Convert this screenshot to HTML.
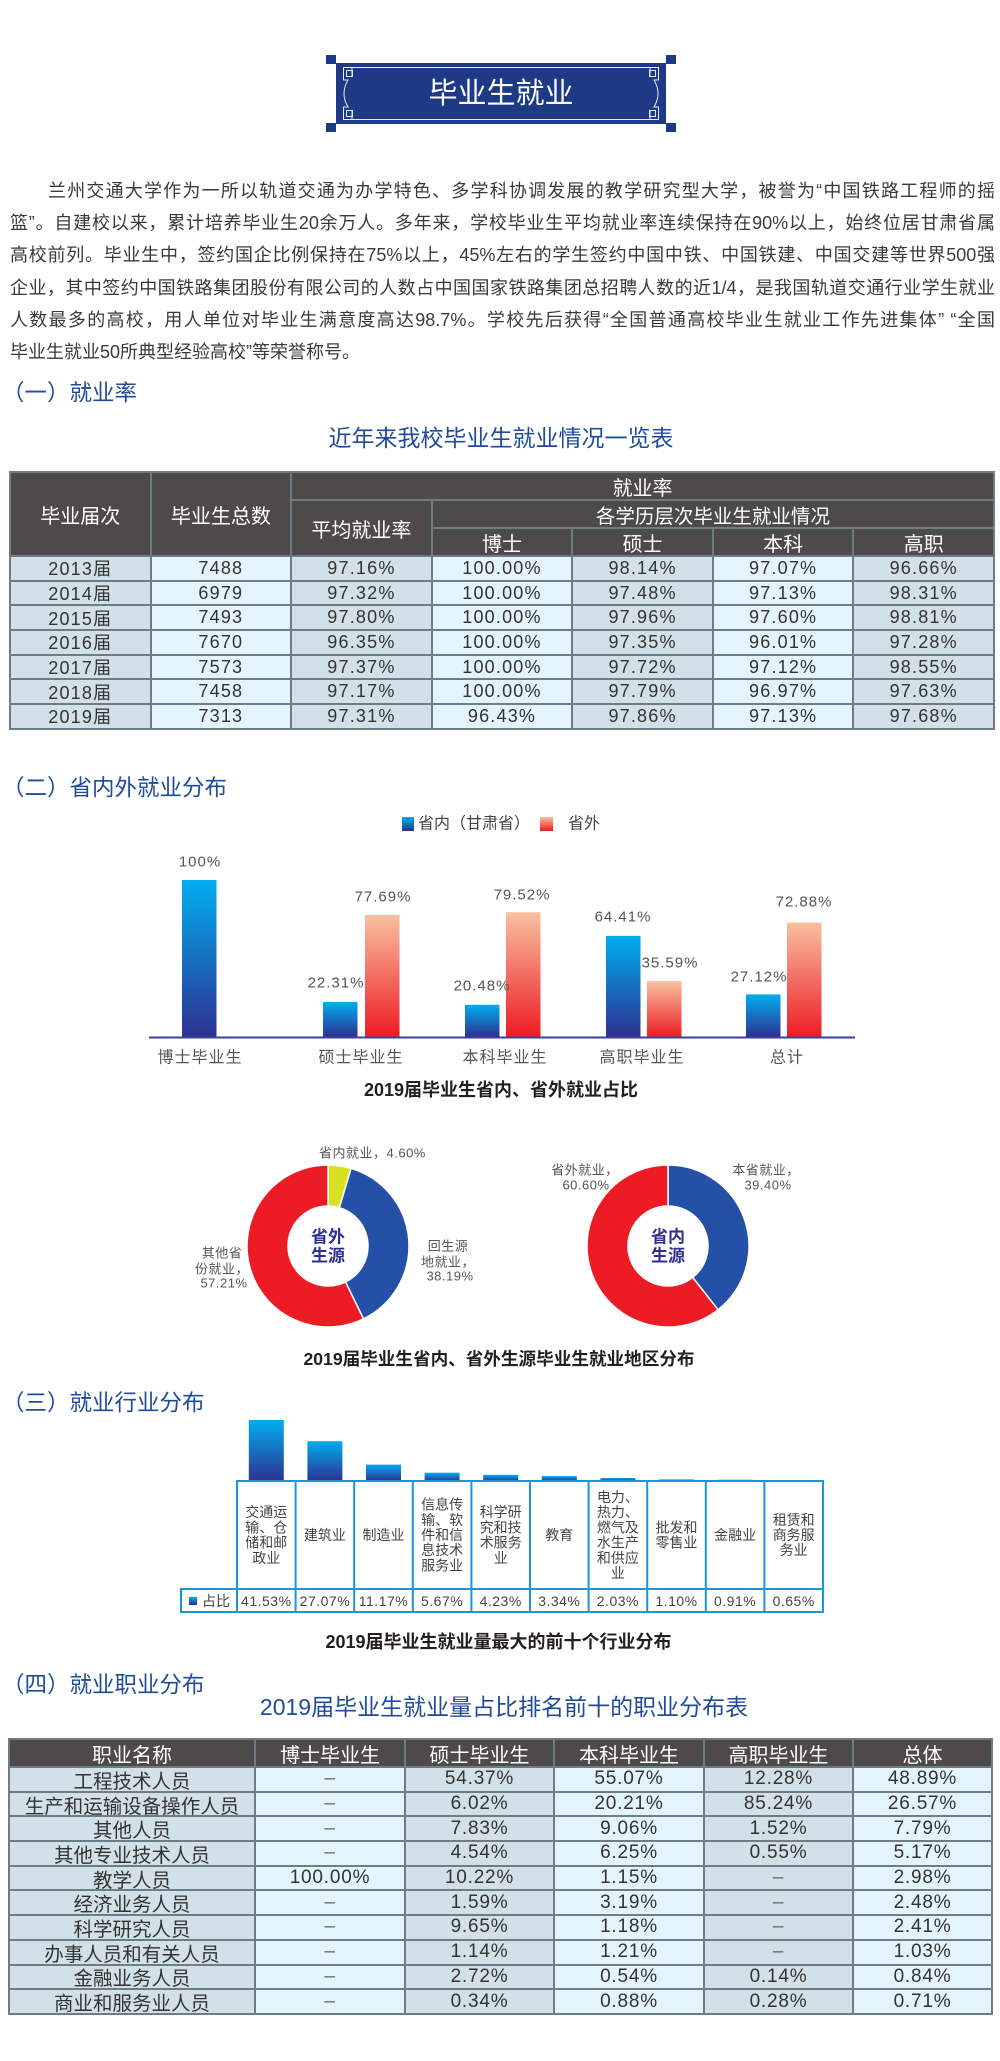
<!DOCTYPE html>
<html lang="zh-CN">
<head>
<meta charset="utf-8">
<style>
  html,body{margin:0;padding:0;background:#fff;}
  body{width:1000px;height:2061px;position:relative;overflow:hidden;
       font-family:"Liberation Sans","Noto Sans CJK SC",sans-serif;}
  svg text{font-family:"Liberation Sans","Noto Sans CJK SC",sans-serif;}
  #bg{position:absolute;left:0;top:0;}
  .para{position:absolute;left:10px;top:175px;width:985px;font-size:18px;line-height:32.2px;color:#3a3a3a;}
  .para div{white-space:normal;}
  .j{text-align:justify;text-align-last:justify;}
  .grid{position:absolute;box-sizing:border-box;display:grid;padding:2px;gap:2px;background:#6e7c84;}
  .grid > div{display:flex;align-items:center;justify-content:center;white-space:nowrap;overflow:hidden;}
  .h{background:#4e4a4b;color:#fff;font-size:20px;}
  .a{background:#d2e0e7;color:#333;}
  .b{background:#e4f4fb;color:#333;}
  .t1{left:9px;top:471px;width:986px;grid-template-columns:repeat(7,1fr);
      grid-template-rows:26px 26px 26px repeat(7,22.7px);}
  .t1 .a,.t1 .b{font-size:18px;letter-spacing:1.2px;}
  .t2{left:8px;top:1738px;width:985px;grid-template-columns:244px 148px 147px 148px 147px 137px;
      grid-template-rows:26px repeat(10,22.7px);}
  .t2 .a,.t2 .b{font-size:19px;letter-spacing:0.8px;}
  .t2 .n{letter-spacing:0;font-size:19.5px;}
  .d{color:#666;}
</style>
</head>
<body>
<svg id="bg" width="1000" height="2061" viewBox="0 0 1000 2061" xmlns="http://www.w3.org/2000/svg">
  <defs>
    <linearGradient id="blueG" x1="0" y1="0" x2="0" y2="1">
      <stop offset="0" stop-color="#00aeef"/>
      <stop offset="1" stop-color="#2e3192"/>
    </linearGradient>
    <linearGradient id="redG" x1="0" y1="0" x2="0" y2="1">
      <stop offset="0" stop-color="#f8c0a0"/>
      <stop offset="1" stop-color="#ed1c24"/>
    </linearGradient>
  </defs>

  <!-- Title box -->
  <rect x="336" y="63" width="330" height="61" fill="#1e3a86"/>
  <rect x="326" y="55" width="10" height="9" fill="#1e3a86"/>
  <rect x="666" y="55" width="10" height="9" fill="#1e3a86"/>
  <rect x="326" y="123" width="10" height="9" fill="#1e3a86"/>
  <rect x="666" y="123" width="10" height="9" fill="#1e3a86"/>
  <g fill="none" stroke="#ffffff" stroke-width="1" opacity="0.9">
    <path d="M358 67.5 H644"/>
    <path d="M358 119.5 H644"/>
    <path d="M358 67.5 H343.5 V80 H348 Q340 93.5 348 107 H343.5 V119.5 H358"/>
    <path d="M644 67.5 H658.5 V80 H654 Q662 93.5 654 107 H658.5 V119.5 H644"/>
    <rect x="346.5" y="70.5" width="6" height="6"/>
    <rect x="346.5" y="110.5" width="6" height="6"/>
    <rect x="649.5" y="70.5" width="6" height="6"/>
    <rect x="649.5" y="110.5" width="6" height="6"/>
    <path d="M352 67.5 V76.5 M352 110.5 V119.5 M650 67.5 V76.5 M650 110.5 V119.5"/>
  </g>
  <text x="501" y="94" font-size="29" fill="#ffffff" text-anchor="middle" dominant-baseline="central">毕业生就业</text>

  <!-- Section headers -->
  <g font-size="22.5" fill="#1f4b99" dominant-baseline="central">
    <text x="2" y="393">（一）就业率</text>
    <text x="2" y="788">（二）省内外就业分布</text>
    <text x="2" y="1403">（三）就业行业分布</text>
    <text x="2" y="1685">（四）就业职业分布</text>
  </g>
  <text x="501" y="438" font-size="23" fill="#1f4b99" text-anchor="middle" dominant-baseline="central">近年来我校毕业生就业情况一览表</text>
  <text x="504" y="1707" font-size="23" fill="#1f4b99" text-anchor="middle" dominant-baseline="central">2019届毕业生就业量占比排名前十的职业分布表</text>

  <!-- Bar chart: legend -->
  <rect x="402" y="817" width="12" height="14" fill="url(#blueG)"/>
  <text x="418" y="824" font-size="16" fill="#444" dominant-baseline="central">省内（甘肃省）</text>
  <rect x="540" y="817" width="13" height="14" fill="url(#redG)"/>
  <text x="568" y="824" font-size="16" fill="#444" dominant-baseline="central">省外</text>

  <!-- Bars -->
  <rect x="182" y="880" width="34.5" height="157" fill="url(#blueG)"/>
  <rect x="323" y="1002" width="34.5" height="35" fill="url(#blueG)"/>
  <rect x="365" y="915" width="34.5" height="122" fill="url(#redG)"/>
  <rect x="465" y="1004.8" width="34.5" height="32.2" fill="url(#blueG)"/>
  <rect x="506" y="912.2" width="34.5" height="124.8" fill="url(#redG)"/>
  <rect x="606" y="935.9" width="34.5" height="101.1" fill="url(#blueG)"/>
  <rect x="647" y="981.1" width="34.5" height="55.9" fill="url(#redG)"/>
  <rect x="746" y="994.4" width="34.5" height="42.6" fill="url(#blueG)"/>
  <rect x="787" y="922.6" width="34.5" height="114.4" fill="url(#redG)"/>
  <line x1="149" y1="1037.5" x2="855" y2="1037.5" stroke="#3b3f9c" stroke-width="2"/>

  <g font-size="15" fill="#555" letter-spacing="1" text-anchor="middle" dominant-baseline="central">
    <text x="200" y="862">100%</text>
    <text x="336" y="983">22.31%</text>
    <text x="383" y="897">77.69%</text>
    <text x="482" y="986">20.48%</text>
    <text x="522" y="895">79.52%</text>
    <text x="623" y="917">64.41%</text>
    <text x="670" y="963">35.59%</text>
    <text x="759" y="977">27.12%</text>
    <text x="804" y="902">72.88%</text>
  </g>
  <g font-size="16" fill="#555" letter-spacing="1" text-anchor="middle" dominant-baseline="central">
    <text x="200" y="1058">博士毕业生</text>
    <text x="361" y="1058">硕士毕业生</text>
    <text x="505" y="1058">本科毕业生</text>
    <text x="642" y="1058">高职毕业生</text>
    <text x="787" y="1058">总计</text>
  </g>
  <text x="501" y="1090" font-size="18" font-weight="bold" fill="#231f20" text-anchor="middle" dominant-baseline="central">2019届毕业生省内、省外就业占比</text>

  <!-- Donut 1 -->
  <g stroke="#ffffff" stroke-width="1.5">
    <path d="M328 1165 A81 81 0 0 1 351.09 1168.36 L339.40 1207.66 A40 40 0 0 0 328 1206 Z" fill="#d9e021"/>
    <path d="M351.09 1168.36 A81 81 0 0 1 363.46 1318.83 L345.51 1281.96 A40 40 0 0 0 339.40 1207.66 Z" fill="#2550a7"/>
    <path d="M363.46 1318.83 A81 81 0 1 1 328 1165 L328 1206 A40 40 0 1 0 345.51 1281.96 Z" fill="#ed1c24"/>
  </g>
  <g font-size="17" font-weight="bold" fill="#2e3192" text-anchor="middle" dominant-baseline="central">
    <text x="328" y="1237">省外</text>
    <text x="328" y="1256">生源</text>
  </g>
  <g font-size="13" fill="#555" letter-spacing="0.5" dominant-baseline="central">
    <text x="319" y="1153">省内就业，4.60%</text>
    <text x="448" y="1246" text-anchor="middle">回生源</text>
    <text x="448" y="1262" text-anchor="middle">地就业，</text>
    <text x="450" y="1276" text-anchor="middle">38.19%</text>
    <text x="222" y="1253" text-anchor="middle">其他省</text>
    <text x="222" y="1269" text-anchor="middle">份就业，</text>
    <text x="224" y="1283" text-anchor="middle">57.21%</text>
  </g>

  <!-- Donut 2 -->
  <g stroke="#ffffff" stroke-width="1.5">
    <path d="M668 1165 A81 81 0 0 1 718.04 1309.69 L692.71 1277.45 A40 40 0 0 0 668 1206 Z" fill="#2550a7"/>
    <path d="M718.04 1309.69 A81 81 0 1 1 668 1165 L668 1206 A40 40 0 1 0 692.71 1277.45 Z" fill="#ed1c24"/>
  </g>
  <g font-size="17" font-weight="bold" fill="#2e3192" text-anchor="middle" dominant-baseline="central">
    <text x="668" y="1237">省内</text>
    <text x="668" y="1256">生源</text>
  </g>
  <g font-size="13" fill="#555" letter-spacing="0.5" text-anchor="middle" dominant-baseline="central">
    <text x="585" y="1170">省外就业，</text>
    <text x="586" y="1185">60.60%</text>
    <text x="766" y="1170">本省就业，</text>
    <text x="768" y="1185">39.40%</text>
  </g>
  <text x="499" y="1359" font-size="17.6" font-weight="bold" fill="#231f20" text-anchor="middle" dominant-baseline="central">2019届毕业生省内、省外生源毕业生就业地区分布</text>

  <!-- Industry chart bars -->
  <g fill="url(#blueG)">
    <rect x="248.8" y="1420" width="35" height="61"/>
    <rect x="307.4" y="1441.2" width="35" height="39.8"/>
    <rect x="366" y="1464.6" width="35" height="16.4"/>
    <rect x="424.6" y="1472.7" width="35" height="8.3"/>
    <rect x="483.2" y="1474.8" width="35" height="6.2"/>
    <rect x="541.8" y="1476.1" width="35" height="4.9"/>
    <rect x="600.4" y="1478" width="35" height="3"/>
    <rect x="659" y="1479.4" width="35" height="1.6"/>
    <rect x="717.6" y="1479.7" width="35" height="1.3"/>
    <rect x="776.2" y="1480" width="35" height="1"/>
  </g>
  <g stroke="#1b95db" stroke-width="2" fill="none">
    <path d="M237 1481 H823 M181 1589 H823 M181 1612 H823"/>
    <path d="M181 1588 V1613"/>
    <path d="M237 1480 V1613 M295.6 1480 V1613 M354.2 1480 V1613 M412.8 1480 V1613 M471.4 1480 V1613 M530 1480 V1613 M588.6 1480 V1613 M647.2 1480 V1613 M705.8 1480 V1613 M764.4 1480 V1613 M823 1480 V1613"/>
  </g>
  <g font-size="14" fill="#444" text-anchor="middle" dominant-baseline="central">
    <text x="266.3" y="1512.2">交通运</text>
    <text x="266.3" y="1527.4">输、仓</text>
    <text x="266.3" y="1542.6">储和邮</text>
    <text x="266.3" y="1557.8">政业</text>
    <text x="324.9" y="1535">建筑业</text>
    <text x="383.5" y="1535">制造业</text>
    <text x="442.1" y="1504.6">信息传</text>
    <text x="442.1" y="1519.8">输、软</text>
    <text x="442.1" y="1535">件和信</text>
    <text x="442.1" y="1550.2">息技术</text>
    <text x="442.1" y="1565.4">服务业</text>
    <text x="500.7" y="1512.2">科学研</text>
    <text x="500.7" y="1527.4">究和技</text>
    <text x="500.7" y="1542.6">术服务</text>
    <text x="500.7" y="1557.8">业</text>
    <text x="559.3" y="1535">教育</text>
    <text x="617.9" y="1497">电力、</text>
    <text x="617.9" y="1512.2">热力、</text>
    <text x="617.9" y="1527.4">燃气及</text>
    <text x="617.9" y="1542.6">水生产</text>
    <text x="617.9" y="1557.8">和供应</text>
    <text x="617.9" y="1573">业</text>
    <text x="676.5" y="1527.4">批发和</text>
    <text x="676.5" y="1542.6">零售业</text>
    <text x="735.1" y="1535">金融业</text>
    <text x="793.7" y="1519.8">租赁和</text>
    <text x="793.7" y="1535">商务服</text>
    <text x="793.7" y="1550.2">务业</text>
  </g>
  <g font-size="14" fill="#444" letter-spacing="0.5" text-anchor="middle" dominant-baseline="central">
    <text x="266.3" y="1601">41.53%</text>
    <text x="324.9" y="1601">27.07%</text>
    <text x="383.5" y="1601">11.17%</text>
    <text x="442.1" y="1601">5.67%</text>
    <text x="500.7" y="1601">4.23%</text>
    <text x="559.3" y="1601">3.34%</text>
    <text x="617.9" y="1601">2.03%</text>
    <text x="676.5" y="1601">1.10%</text>
    <text x="735.1" y="1601">0.91%</text>
    <text x="793.7" y="1601">0.65%</text>
  </g>
  <rect x="189" y="1597" width="8" height="8" fill="url(#blueG)"/>
  <text x="202" y="1601" font-size="14" fill="#444" dominant-baseline="central">占比</text>
  <text x="498.5" y="1642" font-size="18" font-weight="bold" fill="#231f20" text-anchor="middle" dominant-baseline="central">2019届毕业生就业量最大的前十个行业分布</text>
</svg>

<div class="para">
  <div class="j" style="text-indent:38px">兰州交通大学作为一所以轨道交通为办学特色、多学科协调发展的教学研究型大学，被誉为“中国铁路工程师的摇</div>
  <div class="j">篮”。自建校以来，累计培养毕业生20余万人。多年来，学校毕业生平均就业率连续保持在90%以上，始终位居甘肃省属</div>
  <div class="j">高校前列。毕业生中，签约国企比例保持在75%以上，45%左右的学生签约中国中铁、中国铁建、中国交建等世界500强</div>
  <div class="j">企业，其中签约中国铁路集团股份有限公司的人数占中国国家铁路集团总招聘人数的近1/4，是我国轨道交通行业学生就业</div>
  <div class="j">人数最多的高校，用人单位对毕业生满意度高达98.7%。学校先后获得“全国普通高校毕业生就业工作先进集体”  “全国</div>
  <div>毕业生就业50所典型经验高校”等荣誉称号。</div>
</div>

<div class="grid t1">
  <div class="h" style="grid-column:1;grid-row:1/4">毕业届次</div>
  <div class="h" style="grid-column:2;grid-row:1/4">毕业生总数</div>
  <div class="h" style="grid-column:3/8;grid-row:1">就业率</div>
  <div class="h" style="grid-column:3;grid-row:2/4">平均就业率</div>
  <div class="h" style="grid-column:4/8;grid-row:2;font-size:19.5px">各学历层次毕业生就业情况</div>
  <div class="h" style="grid-column:4;grid-row:3">博士</div>
  <div class="h" style="grid-column:5;grid-row:3">硕士</div>
  <div class="h" style="grid-column:6;grid-row:3">本科</div>
  <div class="h" style="grid-column:7;grid-row:3">高职</div>

  <div class="a">2013届</div><div class="b">7488</div><div class="a">97.16%</div><div class="b">100.00%</div><div class="a">98.14%</div><div class="b">97.07%</div><div class="a">96.66%</div>
  <div class="a">2014届</div><div class="b">6979</div><div class="a">97.32%</div><div class="b">100.00%</div><div class="a">97.48%</div><div class="b">97.13%</div><div class="a">98.31%</div>
  <div class="a">2015届</div><div class="b">7493</div><div class="a">97.80%</div><div class="b">100.00%</div><div class="a">97.96%</div><div class="b">97.60%</div><div class="a">98.81%</div>
  <div class="a">2016届</div><div class="b">7670</div><div class="a">96.35%</div><div class="b">100.00%</div><div class="a">97.35%</div><div class="b">96.01%</div><div class="a">97.28%</div>
  <div class="a">2017届</div><div class="b">7573</div><div class="a">97.37%</div><div class="b">100.00%</div><div class="a">97.72%</div><div class="b">97.12%</div><div class="a">98.55%</div>
  <div class="a">2018届</div><div class="b">7458</div><div class="a">97.17%</div><div class="b">100.00%</div><div class="a">97.79%</div><div class="b">96.97%</div><div class="a">97.63%</div>
  <div class="a">2019届</div><div class="b">7313</div><div class="a">97.31%</div><div class="b">96.43%</div><div class="a">97.86%</div><div class="b">97.13%</div><div class="a">97.68%</div>
</div>

<div class="grid t2">
  <div class="h">职业名称</div><div class="h">博士毕业生</div><div class="h">硕士毕业生</div><div class="h">本科毕业生</div><div class="h">高职毕业生</div><div class="h">总体</div>

  <div class="a n">工程技术人员</div><div class="b d">–</div><div class="a">54.37%</div><div class="b">55.07%</div><div class="a">12.28%</div><div class="b">48.89%</div>
  <div class="a n">生产和运输设备操作人员</div><div class="b d">–</div><div class="a">6.02%</div><div class="b">20.21%</div><div class="a">85.24%</div><div class="b">26.57%</div>
  <div class="a n">其他人员</div><div class="b d">–</div><div class="a">7.83%</div><div class="b">9.06%</div><div class="a">1.52%</div><div class="b">7.79%</div>
  <div class="a n">其他专业技术人员</div><div class="b d">–</div><div class="a">4.54%</div><div class="b">6.25%</div><div class="a">0.55%</div><div class="b">5.17%</div>
  <div class="a n">教学人员</div><div class="b">100.00%</div><div class="a">10.22%</div><div class="b">1.15%</div><div class="a d">–</div><div class="b">2.98%</div>
  <div class="a n">经济业务人员</div><div class="b d">–</div><div class="a">1.59%</div><div class="b">3.19%</div><div class="a d">–</div><div class="b">2.48%</div>
  <div class="a n">科学研究人员</div><div class="b d">–</div><div class="a">9.65%</div><div class="b">1.18%</div><div class="a d">–</div><div class="b">2.41%</div>
  <div class="a n">办事人员和有关人员</div><div class="b d">–</div><div class="a">1.14%</div><div class="b">1.21%</div><div class="a d">–</div><div class="b">1.03%</div>
  <div class="a n">金融业务人员</div><div class="b d">–</div><div class="a">2.72%</div><div class="b">0.54%</div><div class="a">0.14%</div><div class="b">0.84%</div>
  <div class="a n">商业和服务业人员</div><div class="b d">–</div><div class="a">0.34%</div><div class="b">0.88%</div><div class="a">0.28%</div><div class="b">0.71%</div>
</div>
</body>
</html>
